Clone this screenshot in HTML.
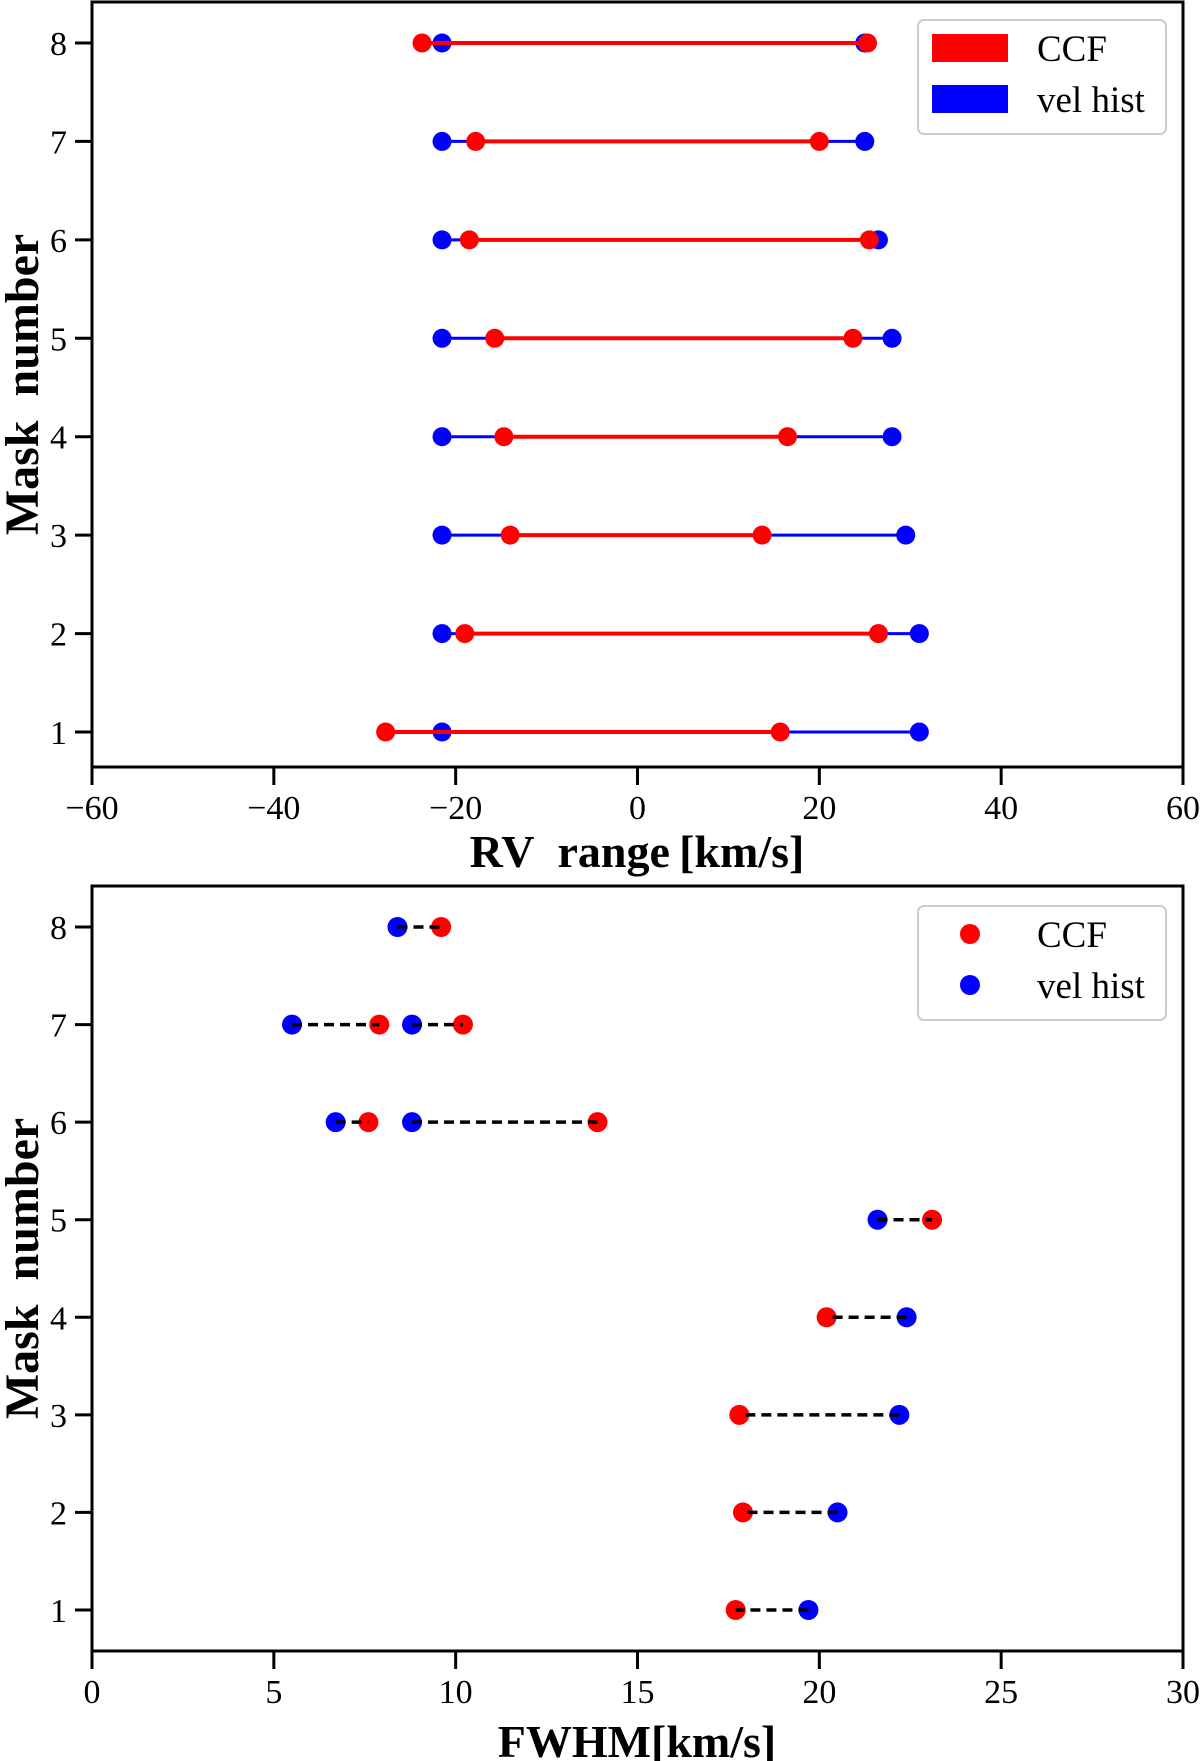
<!DOCTYPE html>
<html><head><meta charset="utf-8"><style>
html,body{margin:0;padding:0;background:#fff;}
svg{display:block;font-family:"Liberation Serif",serif;}
</style></head><body>
<svg id="fig" width="1200" height="1761" viewBox="0 0 1200 1761" xmlns="http://www.w3.org/2000/svg"></svg>
<script>
// Top chart: RV range
const masks = [1,2,3,4,5,6,7,8];
const ccfMin = [-27.7,-19,-14,-14.7,-15.7,-18.5,-17.8,-23.7];
const ccfMax = [15.7,26.5,13.7,16.5,23.7,25.5,20,25.3];
const velMin = [-21.5,-21.5,-21.5,-21.5,-21.5,-21.5,-21.5,-21.5];
const velMax = [31,31,29.5,28,28,26.5,25,25];
const rvTicks = [-60,-40,-20,0,20,40,60];
const rvTickLabels = ["\u221260","\u221240","\u221220","0","20","40","60"];
// Bottom chart: FWHM (pairs connected by dashed lines)
const fwRows = [1,2,3,4,5,6,7,8,6,7];
const fwCcf = [17.7,17.9,17.8,20.2,23.1,7.6,7.9,9.6,13.9,10.2];
const fwVel = [19.7,20.5,22.2,22.4,21.6,6.7,5.5,8.4,8.8,8.8];
const fwTicks = [0,5,10,15,20,25,30];
const fwTickLabels = ["0","5","10","15","20","25","30"];
const yTickLabels = ["1","2","3","4","5","6","7","8"];

const NS="http://www.w3.org/2000/svg";
const svg=document.getElementById('fig');
function el(tag,attrs,parent,text){const e=document.createElementNS(NS,tag);for(const k in attrs)e.setAttribute(k,attrs[k]);if(text!==undefined)e.textContent=text;(parent||svg).appendChild(e);return e;}

function axes(cfg){
  const L=92,R=1183,T=cfg.top,B=cfg.bottom;
  const xs=v=>L+(v-cfg.xmin)/(cfg.xmax-cfg.xmin)*(R-L);
  const ys=v=>cfg.y8+(8-v)*(cfg.y1-cfg.y8)/7;
  const g=el('g',{});
  
  
  return {L,R,T,B,xs,ys,g};
}
function frame(a,cfg,xt,xl,title){
  const g=a.g;
  const box=el('rect',{x:a.L,y:a.T,width:a.R-a.L,height:a.B-a.T,fill:'none',stroke:'#000','stroke-width':3},g);
  
  
  xt.forEach((v,i)=>{
    const x=a.xs(v);
    el('line',{x1:x,x2:x,y1:a.B,y2:a.B+18,stroke:'#000','stroke-width':3},g);
    const t=el('text',{x:x,y:a.B+52,'text-anchor':'middle','font-size':34},g,xl[i]);
    
    
  });
  masks.forEach((m,i)=>{
    const y=a.ys(m);
    el('line',{x1:a.L-17,x2:a.L,y1:y,y2:y,stroke:'#000','stroke-width':3},g);
    const t=el('text',{x:67,y:y+12,'text-anchor':'end','font-size':34},g,yTickLabels[i]);
    
    
  });
  const yc=(a.T+a.B)/2;
  const yl=el('text',{x:0,y:0,transform:`translate(38,${yc}) rotate(-90)`,'text-anchor':'middle','font-size':48,'font-weight':'bold'},g,'Mask\u00a0\u00a0number');
  
  
  const xl2=el('text',{x:cfg.titleX,y:cfg.titleY,'text-anchor':'middle','font-size':46,'font-weight':'bold'},g,title);
  
  
}
function legend(a,y0,patch){
  const g=el('g',{},a.g);
  
  
  el('rect',{x:918,y:y0,width:248,height:114,rx:6,fill:'#fff',stroke:'#ccc','stroke-width':2},g);
  [['CCF','#ff0000',0],['vel hist','#0000ff',51]].forEach(([lab,c,dy])=>{
    const e=el('g',{},g);
    
    
    if(patch) el('rect',{x:932,y:y0+14+dy,width:76,height:28,fill:c},e);
    else el('circle',{cx:970,cy:y0+28+dy,r:10,fill:c},e);
    el('text',{x:1037,y:y0+41+dy,'font-size':37},e,lab);
  });
}

// Top
const cfgT={name:'rv-range-chart',top:2,bottom:767,xmin:-60,xmax:60,y8:43,y1:732,titleX:637,titleY:867};
const A=axes(cfgT);
frame(A,cfgT,rvTicks,rvTickLabels,'RV\u00a0\u00a0range\u2009[km/s]');
masks.forEach((m,i)=>{
  const y=A.ys(m);
  const bl=el('line',{x1:A.xs(velMin[i]),x2:A.xs(velMax[i]),y1:y,y2:y,stroke:'#0000ff','stroke-width':3},A.g);
  
  
  [velMin[i],velMax[i]].forEach(v=>{const c=el('circle',{cx:A.xs(v),cy:y,r:9.5,fill:'#0000ff'},A.g);
    
    });
  const rl=el('line',{x1:A.xs(ccfMin[i]),x2:A.xs(ccfMax[i]),y1:y,y2:y,stroke:'#ff0000','stroke-width':4},A.g);
  
  
  [ccfMin[i],ccfMax[i]].forEach(v=>{const c=el('circle',{cx:A.xs(v),cy:y,r:9.5,fill:'#ff0000'},A.g);
    
    });
});
legend(A,20,true);

// Bottom
const cfgB={name:'fwhm-chart',top:886,bottom:1651,xmin:0,xmax:30,y8:927,y1:1610,titleX:637,titleY:1757};
const Bx=axes(cfgB);
frame(Bx,cfgB,fwTicks,fwTickLabels,'FWHM[km/s]');
fwRows.forEach((m,i)=>{
  const y=Bx.ys(m);
  const c1=el('circle',{cx:Bx.xs(fwCcf[i]),cy:y,r:10,fill:'#ff0000'},Bx.g);
  
  
  const c2=el('circle',{cx:Bx.xs(fwVel[i]),cy:y,r:10,fill:'#0000ff'},Bx.g);
  
  
  const l=el('line',{x1:Bx.xs(fwVel[i]),x2:Bx.xs(fwCcf[i]),y1:y,y2:y,stroke:'#000','stroke-width':3.5,'stroke-dasharray':'10,6'},Bx.g);
  
  
});
legend(Bx,906,false);
</script>
</body></html>
